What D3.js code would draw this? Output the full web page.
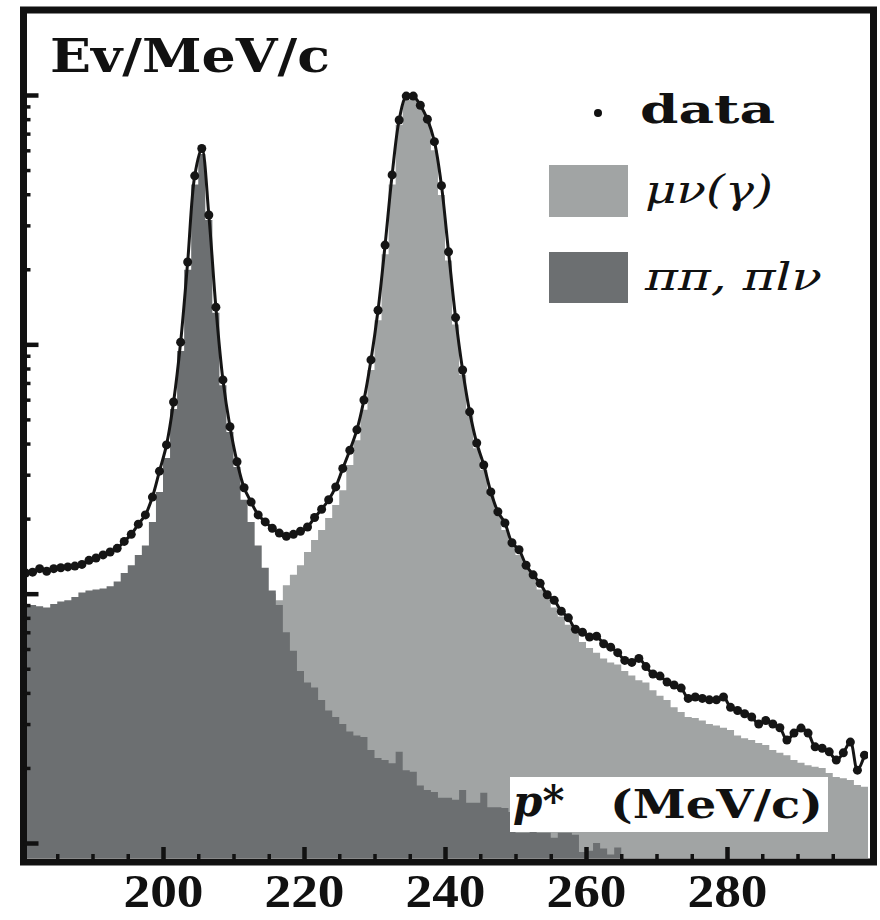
<!DOCTYPE html>
<html>
<head>
<meta charset="utf-8">
<script src="https://cdn.jsdelivr.net/npm/d3@7"></script>
<style>
body { margin: 0; background: #fff; }
</style>
</head>
<body>
<div id="chart"></div>
<script>

// 1 MeV/c bins, lower edges 180 ... 299
var binLow = d3.range(180, 300);

// pi pi, pi l nu  (dark histogram)
var darkCounts = [
90, 90, 89, 88, 91, 93, 94, 97, 101, 103,
104, 105, 107, 112, 121, 130, 143, 156, 194, 256,
350, 550, 940, 1990, 4380, 5800, 3150, 1340, 685, 445,
322, 238, 194, 156, 127, 103, 90, 70, 59, 49,
44, 42, 37.5, 34, 32, 30, 28, 27, 26.6, 23.6,
21.9, 21.5, 20.9, 23.2, 19.6, 19.3, 17, 16.3, 16, 15.2,
15.2, 14.9, 16.3, 14.5, 14.5, 15.9, 13.9, 13.9, 13.8, 13.3,
11, 11, 11.5, 11, 11, 10.5, 11, 11, 10.8, 9.2,
9.3, 10, 9.5, 9, 9.6, 8, 8, 8, 8, 8,
8, 8, 8, 8, 8, 8, 8, 8, 8, 8,
8, 8, 8, 8, 8, 8, 8, 8, 8, 8,
8, 8, 8, 8, 8, 8, 8, 8, 8, 8
];

// mu nu (gamma)  (light histogram, drawn behind the dark one)
var lightCounts = [
40, 41, 42, 43, 44, 45, 46, 47, 48, 49,
50, 52, 53, 55, 56, 58, 60, 62, 64, 66,
68, 70, 72, 74, 76, 78, 80, 82, 84, 86,
88, 90, 92, 95, 98, 100, 94, 108, 119, 130,
147, 164, 180, 201, 227, 260, 328, 412, 546, 789,
1250, 2300, 4380, 7600, 9550, 9800, 8900, 7800, 6000, 3970,
2170, 1200, 755, 520, 383, 313, 248, 207, 180, 156,
143, 130, 116, 104, 96, 88, 81, 75, 70, 64,
60.6, 58, 55, 53, 52, 49, 47, 45, 44, 41,
39, 37.5, 35, 33.5, 32, 31.7, 31, 30, 29.6, 29,
28.4, 27, 26.3, 25.9, 25.2, 24.7, 23.6, 23, 22.5, 21.5,
21, 20.5, 20.2, 20, 19.1, 18.4, 18.2, 17.9, 17.1, 16.8
];

// data, at bin centres
var dataCounts = [
121, 122, 126, 123, 126, 127, 128, 129, 131, 136,
139, 143, 147, 152, 162, 173, 190, 207, 244, 310,
395, 587, 1020, 2140, 4740, 6100, 3300, 1410, 720, 467,
338, 266, 233, 207, 194, 183, 175, 170, 173, 178,
185, 202, 218, 238, 268, 318, 376, 454, 598, 866,
1370, 2500, 4780, 7940, 9900, 9900, 9100, 8000, 6500, 4330,
2350, 1280, 789, 536, 402, 328, 256, 213, 192, 160,
150, 130, 119, 110, 99, 94, 85, 80, 72, 70,
67, 67.5, 63, 61, 58, 54, 53, 55, 51, 47.6,
46.7, 44.2, 43, 41.8, 38, 38.5, 38, 37.5, 37.5, 38.5,
35, 34, 33, 32, 30, 31, 30, 29, 25.9, 27.6,
28.9, 27.6, 24.3, 24, 23.2, 21.5, 23, 25.4, 19.6, 22.5
];

var xMajorTicks = [200, 220, 240, 260, 280];
var xMinorTicks = [185, 190, 195, 205, 210, 215, 225, 230, 235, 245, 250, 255, 265, 270, 275, 285, 290, 295];
var yMajorTicks = [10, 100, 1000, 10000];
var yMinorTicks = [20, 30, 40, 50, 60, 70, 80, 90, 200, 300, 400, 500, 600, 700, 800, 900,
                   2000, 3000, 4000, 5000, 6000, 7000, 8000, 9000];

var darkColor = "#6c6f71";
var lightColor = "#a1a4a4";

var w = 880;
var h = 920;
var plotTop = 14, plotBottom = 858;

var svg = d3.select("#chart")
            .append("svg")
            .attr("width", w)
            .attr("height", h);

var x = d3.scaleLinear().domain([180, 300]).range([22, 868]);
var y = d3.scaleLog().domain([10, 10000]).range([843, 95]);

svg.append("clipPath").attr("id", "plotClip")
   .append("rect")
   .attr("x", 22).attr("y", plotTop)
   .attr("width", 846).attr("height", plotBottom - plotTop);

var plot = svg.append("g").attr("clip-path", "url(#plotClip)");

function steps(counts) {
  var pts = binLow.map(function(b, i) { return [b, counts[i]]; });
  pts.push([300, counts[counts.length - 1]]);
  return pts;
}

var histArea = d3.area()
    .curve(d3.curveStepAfter)
    .x(function(d) { return x(d[0]); })
    .y0(plotBottom)
    .y1(function(d) { return y(d[1]); });

plot.append("path")
    .attr("d", histArea(steps(lightCounts)))
    .attr("fill", lightColor);

plot.append("path")
    .attr("d", histArea(steps(darkCounts)))
    .attr("fill", darkColor);

// data line + points
var pts = binLow.map(function(b, i) { return [b + 0.5, dataCounts[i]]; });

var line = d3.line()
    .curve(d3.curveCatmullRom.alpha(0.5))
    .x(function(d) { return x(d[0]); })
    .y(function(d) { return y(d[1]); });

plot.append("path")
    .attr("d", line(pts))
    .attr("fill", "none")
    .attr("stroke", "#151515")
    .attr("stroke-width", 3);

plot.selectAll("circle")
    .data(pts)
    .enter()
    .append("circle")
    .attr("cx", function(d) { return x(d[0]); })
    .attr("cy", function(d) { return y(d[1]); })
    .attr("r", 4.5)
    .attr("fill", "#151515");

// x label box
svg.append("rect")
   .attr("x", 510).attr("y", 777)
   .attr("width", 318).attr("height", 55)
   .attr("fill", "#fff");

var xl = svg.append("text")
   .attr("x", 513).attr("y", 816)
   .attr("font-family", "DejaVu Serif")
   .attr("font-weight", "bold")
   .attr("font-size", "42px")
   .attr("fill", "#111");
xl.append("tspan").attr("font-style", "italic").text("p");
xl.append("tspan").text("*");

svg.append("text")
   .attr("x", 610).attr("y", 818)
   .attr("font-family", "DejaVu Serif")
   .attr("font-weight", "bold")
   .attr("font-size", "40px")
   .attr("textLength", 213)
   .attr("lengthAdjust", "spacingAndGlyphs")
   .attr("fill", "#111")
   .text("(MeV/c)");

// frame
svg.append("rect")
   .attr("x", 23.5).attr("y", 10)
   .attr("width", 850).attr("height", 852)
   .attr("fill", "none")
   .attr("stroke", "#111")
   .attr("stroke-width", 7);

// ticks, pointing inward
function tickStyle(g, width) {
  g.select(".domain").remove();
  g.selectAll(".tick line").attr("stroke", "#111").attr("stroke-width", width);
}

svg.append("g")
   .attr("transform", "translate(0,862)")
   .call(d3.axisBottom(x).tickValues(xMinorTicks).tickSize(-8).tickFormat(""))
   .call(tickStyle, 3.5);

var xAxis = svg.append("g")
   .attr("transform", "translate(0,862)")
   .call(d3.axisBottom(x).tickValues(xMajorTicks).tickSize(-15).tickPadding(12).tickFormat(d3.format("d")))
   .call(tickStyle, 4.5);

xAxis.selectAll("text")
   .attr("font-family", "Liberation Serif")
   .attr("font-weight", "bold")
   .attr("font-size", "46px")
   .attr("textLength", 80)
   .attr("lengthAdjust", "spacingAndGlyphs")
   .attr("fill", "#111");

svg.append("g")
   .attr("transform", "translate(23.5,0)")
   .call(d3.axisLeft(y).tickValues(yMinorTicks).tickSize(-7).tickFormat(""))
   .call(tickStyle, 3.5);

svg.append("g")
   .attr("transform", "translate(23.5,0)")
   .call(d3.axisLeft(y).tickValues(yMajorTicks).tickSize(-15).tickFormat(""))
   .call(tickStyle, 4.5);

// y label
svg.append("text")
   .attr("x", 50).attr("y", 72)
   .attr("font-family", "DejaVu Serif")
   .attr("font-weight", "bold")
   .attr("font-size", "46px")
   .attr("textLength", 280)
   .attr("lengthAdjust", "spacingAndGlyphs")
   .attr("fill", "#111")
   .text("Ev/MeV/c");

// legend
var legend = svg.append("g");

legend.append("circle")
   .attr("cx", 598).attr("cy", 113).attr("r", 4)
   .attr("fill", "#111");

legend.append("text")
   .attr("x", 640).attr("y", 123)
   .attr("font-family", "DejaVu Serif")
   .attr("font-weight", "bold")
   .attr("font-size", "40px")
   .attr("textLength", 135)
   .attr("lengthAdjust", "spacingAndGlyphs")
   .attr("fill", "#111")
   .text("data");

legend.append("rect")
   .attr("x", 549).attr("y", 165).attr("width", 79).attr("height", 52)
   .attr("fill", lightColor);

legend.append("text")
   .attr("x", 645).attr("y", 203)
   .attr("font-family", "DejaVu Serif")
   .attr("font-style", "italic")
   .attr("font-size", "40px")
   .attr("textLength", 128)
   .attr("lengthAdjust", "spacingAndGlyphs")
   .attr("fill", "#111")
   .text("μν(γ)");

legend.append("rect")
   .attr("x", 549).attr("y", 252).attr("width", 79).attr("height", 51)
   .attr("fill", darkColor);

legend.append("text")
   .attr("x", 645).attr("y", 290)
   .attr("font-family", "DejaVu Serif")
   .attr("font-style", "italic")
   .attr("font-size", "40px")
   .attr("textLength", 177)
   .attr("lengthAdjust", "spacingAndGlyphs")
   .attr("fill", "#111")
   .text("ππ, πlν");

</script>
</body>
</html>
